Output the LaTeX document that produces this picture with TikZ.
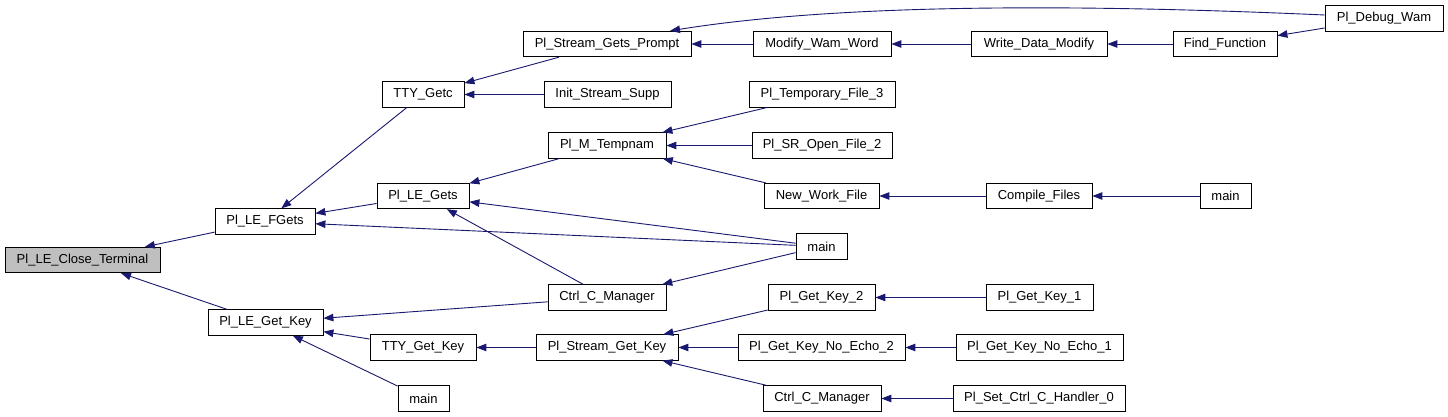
\documentclass[tikz,border=0pt]{standalone}
\usepackage{fontspec}
\setmainfont{Liberation Sans}
\usetikzlibrary{arrows.meta}
\definecolor{edgeblue}{HTML}{191970}
\definecolor{rootgray}{HTML}{BFBFBF}
\tikzset{
  fn/.style={draw=black, fill=white, line width=0.8pt, minimum height=25.5pt,
    inner sep=0pt, font=\fontsize{13pt}{15pt}\selectfont, anchor=center},
  rootfn/.style={fn, fill=rootgray},
  edge/.style={draw=edgeblue, line width=0.9pt, {Triangle[length=10pt,width=7.5pt]}-}
}
\begin{document}
\begin{tikzpicture}[x=1pt,y=-1pt]
\useasboundingbox[fill=white] (0,0) rectangle (1448,417);
% column 1
\node[rootfn, minimum width=155pt] (ct) at (82.5,260) {Pl\_LE\_Close\_Terminal};
% column 2
\node[fn, minimum width=100pt] (fg) at (265,221.5) {Pl\_LE\_FGets};
\node[fn, minimum width=115pt] (gk) at (265.5,322.5) {Pl\_LE\_Get\_Key};
% column 3
\node[fn, minimum width=82pt] (tg) at (423,94.5) {TTY\_Getc};
\node[fn, minimum width=92pt] (lg) at (423,196) {Pl\_LE\_Gets};
\node[fn, minimum width=106pt] (tgk) at (423,347.5) {TTY\_Get\_Key};
\node[fn, minimum width=51pt] (m1) at (423.5,398.5) {main};
% column 4
\node[fn, minimum width=168pt] (sgp) at (607,44) {Pl\_Stream\_Gets\_Prompt};
\node[fn, minimum width=127pt] (iss) at (607.5,94.5) {Init\_Stream\_Supp};
\node[fn, minimum width=118pt] (mt) at (607,145.5) {Pl\_M\_Tempnam};
\node[fn, minimum width=118pt] (cc1) at (607,297.5) {Ctrl\_C\_Manager};
\node[fn, minimum width=142pt] (sgk) at (607,347.5) {Pl\_Stream\_Get\_Key};
% column 5
\node[fn, minimum width=138pt] (mww) at (822,44) {Modify\_Wam\_Word};
\node[fn, minimum width=146pt] (tf3) at (822,94.5) {Pl\_Temporary\_File\_3};
\node[fn, minimum width=140pt] (sr) at (822,145.5) {Pl\_SR\_Open\_File\_2};
\node[fn, minimum width=115pt] (nwf) at (821.5,196) {New\_Work\_File};
\node[fn, minimum width=51pt] (m2) at (821.5,246.5) {main};
\node[fn, minimum width=107pt] (gk2) at (821.5,297.5) {Pl\_Get\_Key\_2};
\node[fn, minimum width=167pt] (ne2) at (821.5,347.5) {Pl\_Get\_Key\_No\_Echo\_2};
\node[fn, minimum width=118pt] (cc2) at (822,398.5) {Ctrl\_C\_Manager};
% column 6
\node[fn, minimum width=136pt] (wdm) at (1039,44) {Write\_Data\_Modify};
\node[fn, minimum width=106pt] (cf) at (1039,196) {Compile\_Files};
\node[fn, minimum width=107pt] (gk1) at (1039.5,297.5) {Pl\_Get\_Key\_1};
\node[fn, minimum width=167pt] (ne1) at (1039.5,347.5) {Pl\_Get\_Key\_No\_Echo\_1};
\node[fn, minimum width=172pt] (sc) at (1039,398.5) {Pl\_Set\_Ctrl\_C\_Handler\_0};
% column 7
\node[fn, minimum width=104pt] (ff) at (1225,44) {Find\_Function};
\node[fn, minimum width=51pt] (m3) at (1225.5,196) {main};
% column 8
\node[fn, minimum width=118pt] (dw) at (1384,18.5) {Pl\_Debug\_Wam};
% edges (arrow at callee)
\draw[edge] (ct) -- (fg);
\draw[edge] (ct) -- (gk);
\draw[edge] (fg) -- (tg);
\draw[edge] (fg) -- (lg);
\draw[edge] (fg) -- (m2);
\draw[edge] (gk) -- (cc1);
\draw[edge] (gk) -- (tgk);
\draw[edge] (gk) -- (m1);
\draw[edge] (tg) -- (sgp);
\draw[edge] (tg) -- (iss);
\draw[edge] (lg) -- (mt);
\draw[edge] (lg) -- (m2);
\draw[edge] (lg) -- (cc1);
\draw[edge] (tgk) -- (sgk);
\draw[edge] (sgp) -- (mww);
\draw[edge] ([xshift=63pt]sgp.north) .. controls (850,2) and (1100,5) .. ([yshift=3.5pt]dw.west);
\draw[edge] (mww) -- (wdm);
\draw[edge] (wdm) -- (ff);
\draw[edge] (ff) -- (dw);
\draw[edge] (mt) -- (tf3);
\draw[edge] (mt) -- (sr);
\draw[edge] (mt) -- (nwf);
\draw[edge] (nwf) -- (cf);
\draw[edge] (cf) -- (m3);
\draw[edge] (cc1) -- (m2);
\draw[edge] (sgk) -- (gk2);
\draw[edge] (sgk) -- (ne2);
\draw[edge] (sgk) -- (cc2);
\draw[edge] (gk2) -- (gk1);
\draw[edge] (ne2) -- (ne1);
\draw[edge] (cc2) -- (sc);
\end{tikzpicture}
\end{document}
